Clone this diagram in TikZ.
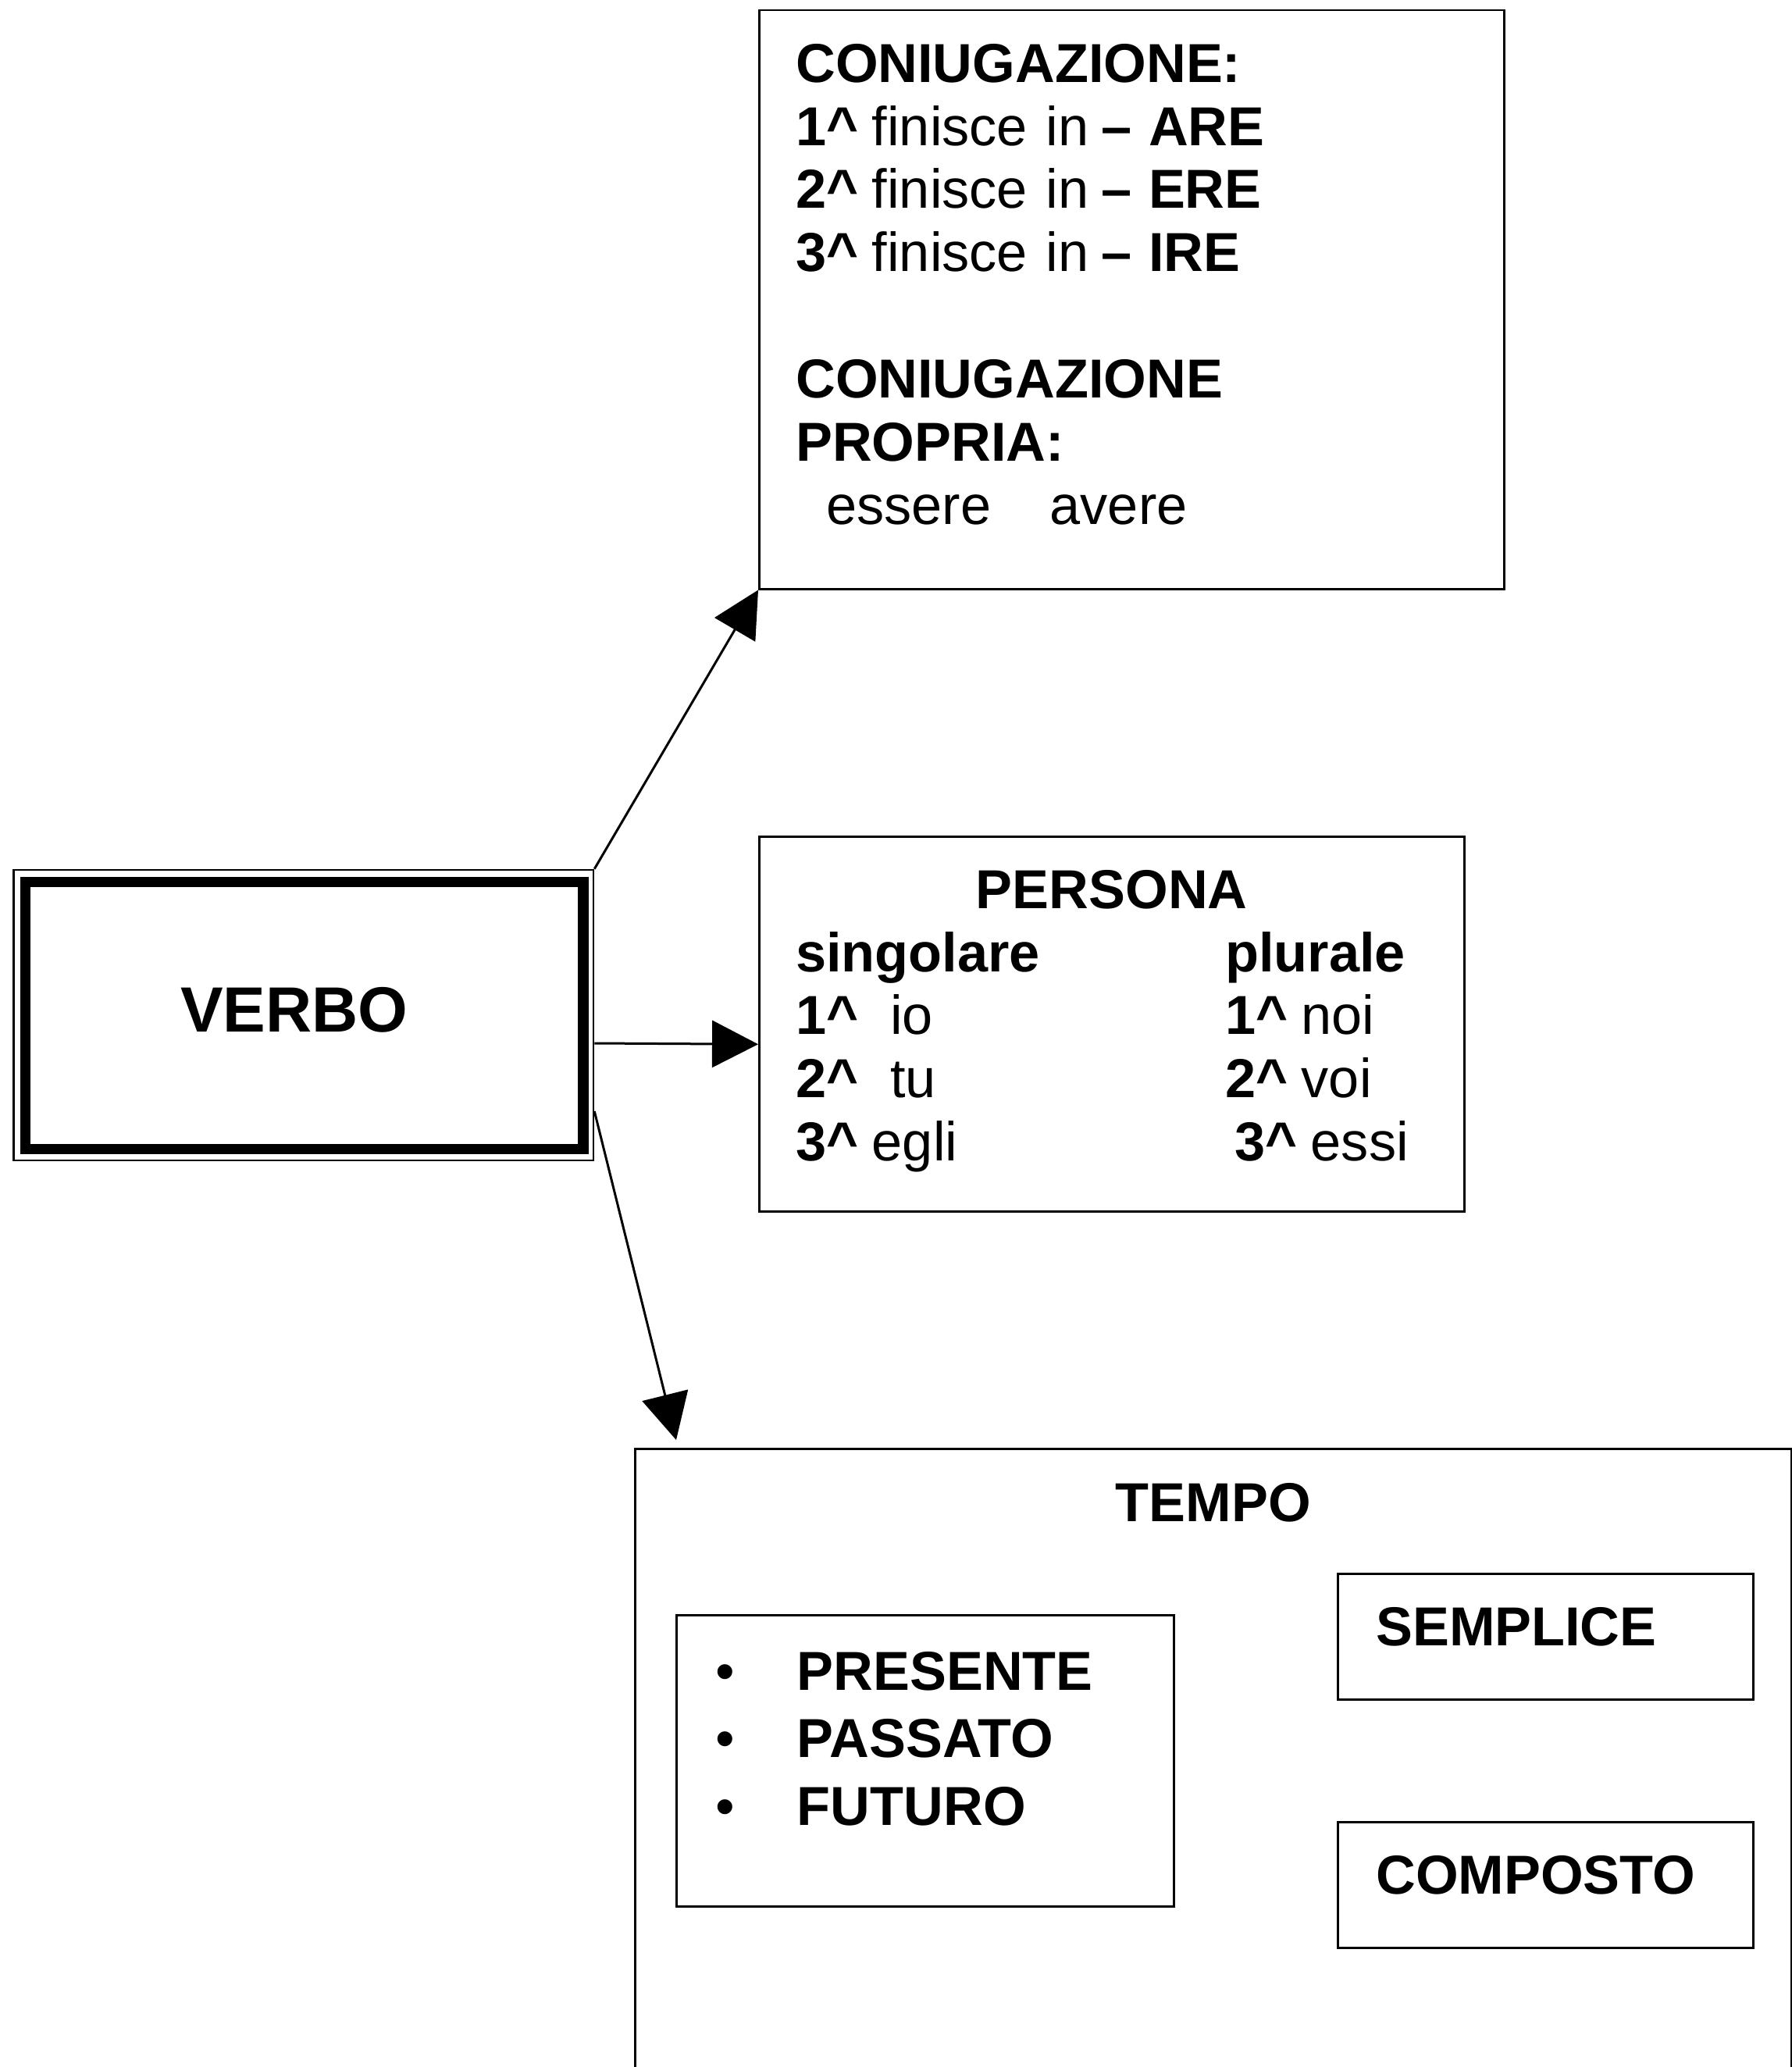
\documentclass[tikz,border=0pt]{standalone}
\usepackage{fontspec}
\setmainfont{Liberation Sans}
\usetikzlibrary{arrows.meta}

% Bold ordinal like "1^"
\newcommand{\numord}[1]{\textbf{#1\textasciicircum}\kern-0.06cm\relax}

\begin{document}
\begin{tikzpicture}[
    box/.style={draw, line width=0.025cm, anchor=north west, inner xsep=0.47cm, inner ysep=0pt,
        align=left, text height=0.92cm, font=\fontsize{20}{23}\selectfont},
    link/.style={line width=0.03cm, -{Triangle[length=0.59cm, width=0.6cm]}}
]
    % Page frame
    \useasboundingbox (0,0) rectangle (22.95,-26.47);
    \clip (0,0) rectangle (22.95,-26.47);

    % Main box with thin and thick frame
    \node[draw, line width=0.025cm, minimum height=3.72cm, inner xsep=2.135cm, inner ysep=0pt,
        text width=3.155cm, align=left, text height=0.59cm, text depth=0.16cm,
        font=\fontsize{23.3}{27}\selectfont\bfseries] (Verbo) at (3.8875,-13.0) {VERBO};
    \draw[line width=0.135cm] ([shift={(0.165,-0.165)}]Verbo.north west) rectangle ([shift={(-0.145,0.16)}]Verbo.south east);

    % Conjugations
    \node[box, text width=8.6cm, text depth=6.49cm] (Coniugazione) at (9.71,-0.12) {%
        \textbf{CONIUGAZIONE:}\\
        \numord{1} finisce in \kern-0.07cm\textbf{–}\ \kern-0.02cm\textbf{ARE}\\
        \numord{2} finisce in \kern-0.07cm\textbf{–}\ \kern-0.02cm\textbf{ERE}\\
        \numord{3} finisce in \kern-0.07cm\textbf{–}\ \kern-0.02cm\textbf{IRE}\\[23pt]
        \textbf{CONIUGAZIONE}\\
        \textbf{PROPRIA:}\\
        \hspace*{0.39cm}essere\hspace{0.755cm}avere};

    % Persons
    \node[box, text width=8.09cm, text depth=3.88cm] (Persona) at (9.71,-10.70) {%
        \makebox[\linewidth]{\textbf{PERSONA}}\\
        \makebox[5.5cm][l]{\textbf{singolare}}\textbf{plurale}\\
        \makebox[5.5cm][l]{\numord{1}\ \ io}\numord{1} noi\\
        \makebox[5.5cm][l]{\numord{2}\ \ tu}\numord{2} voi\\
        \makebox[5.5cm][l]{\numord{3} egli}\hspace{0.12cm}\numord{3} essi};

    % Tenses (box runs off the page)
    \node[box, text width=14.81cm, inner xsep=0pt, text height=0.93cm, text depth=7.73cm, align=center] (Tempo) at (8.12,-18.54) {\textbf{TEMPO}};
    \node[box, text width=5.37cm, inner xsep=0.5cm, text height=0.96cm, text depth=2.77cm,
        font=\fontsize{20}{24.6}\selectfont] (Tempi) at (8.65,-20.67) {%
        \textbullet\hspace{0.8cm}\textbf{PRESENTE}\\
        \textbullet\hspace{0.8cm}\textbf{PASSATO}\\
        \textbullet\hspace{0.8cm}\textbf{FUTURO}};
    \node[box, text width=4.34cm, inner xsep=0.49cm, text depth=0.69cm] (Semplice) at (17.12,-20.14) {\textbf{SEMPLICE}};
    \node[box, text width=4.34cm, inner xsep=0.49cm, text depth=0.69cm] (Composto) at (17.12,-23.32) {\textbf{COMPOSTO}};

    % Arrows out of the main box
    \draw[link] (Verbo.north east) -- (Coniugazione.south west);
    \draw[link] ([yshift=-0.36cm]Verbo.east) -- ([yshift=-0.26cm]Persona.west);
    \draw[link] ([yshift=-1.23cm]Verbo.east) -- ([xshift=0.54cm,yshift=0.10cm]Tempo.north west);
\end{tikzpicture}
\end{document}
